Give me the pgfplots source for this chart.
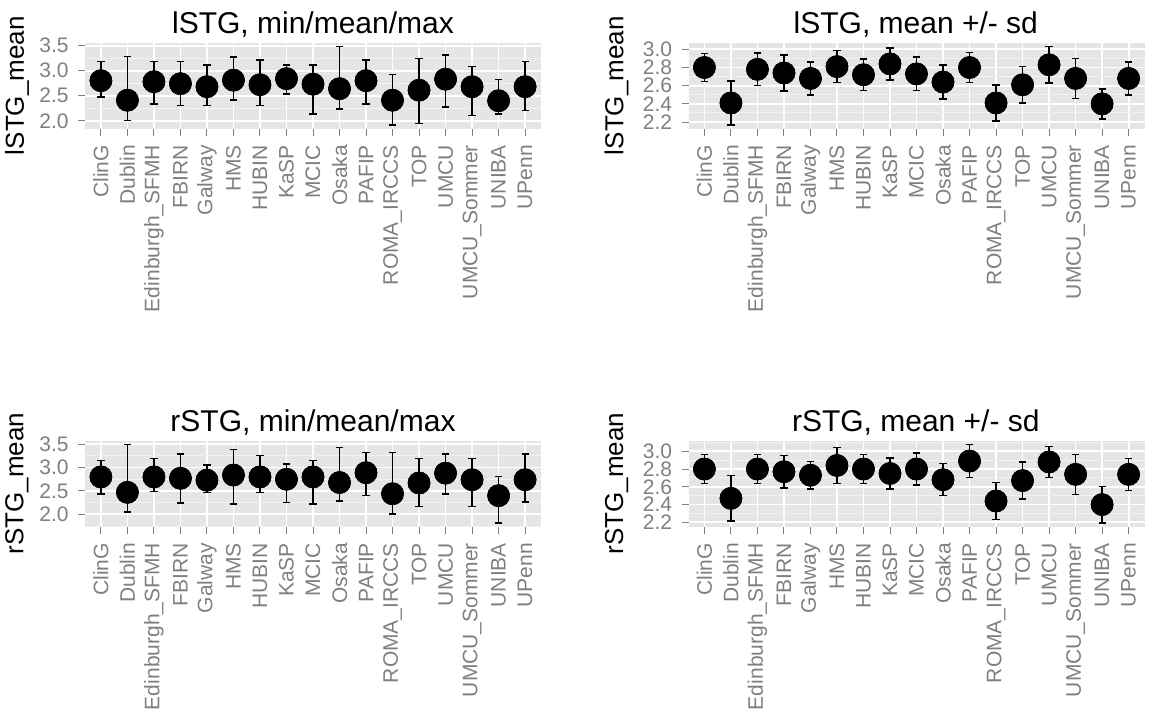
\documentclass[border=0pt]{standalone}
\usepackage{pgfplots}
\pgfplotsset{compat=1.18}
\usepackage{pgfplotstable}
\usepackage{fontspec}
\setmainfont{Liberation Sans}
\definecolor{panelbg}{HTML}{E5E5E5}
\definecolor{gridminor}{HTML}{F2F2F2}
\definecolor{tickgrey}{HTML}{7F7F7F}

% lSTG: mean, min, max, sd
\pgfplotstableread{
x mean min max sd
1  2.80 2.47 3.18 0.155
2  2.41 2.01 3.28 0.240
3  2.78 2.33 3.18 0.180
4  2.74 2.30 3.18 0.200
5  2.68 2.30 3.11 0.180
6  2.81 2.41 3.27 0.175
7  2.72 2.30 3.21 0.175
8  2.84 2.53 3.11 0.175
9  2.73 2.14 3.11 0.185
10 2.64 2.24 3.48 0.185
11 2.80 2.33 3.21 0.165
12 2.41 1.92 2.92 0.200
13 2.61 1.95 3.24 0.200
14 2.83 2.27 3.31 0.200
15 2.68 2.11 3.08 0.220
16 2.40 2.14 2.82 0.165
17 2.68 2.21 3.18 0.180
}\lstg

% rSTG: mean, min, max, sd
\pgfplotstableread{
x mean min max sd
1  2.80 2.43 3.15 0.165
2  2.47 2.05 3.49 0.255
3  2.80 2.49 3.19 0.165
4  2.77 2.24 3.29 0.185
5  2.73 2.47 3.05 0.155
6  2.84 2.22 3.39 0.200
7  2.80 2.47 3.26 0.165
8  2.75 2.25 3.08 0.175
9  2.80 2.22 3.15 0.180
10 2.68 2.29 3.43 0.180
11 2.89 2.40 3.32 0.185
12 2.44 2.01 3.32 0.210
13 2.67 2.17 3.19 0.210
14 2.88 2.43 3.29 0.175
15 2.74 2.17 3.19 0.225
16 2.40 1.82 2.81 0.205
17 2.74 2.26 3.29 0.180
}\rstg

\pgfplotsset{
  panel/.style={
    set layers,
    scale only axis, width=228pt, height=43pt, anchor=north west,
    xmin=0.4, xmax=17.6,
    xtick={1,...,17},
    xticklabels={ClinG,Dublin,Edinburgh\_SFMH,FBIRN,Galway,HMS,HUBIN,KaSP,MCIC,Osaka,PAFIP,ROMA\_IRCCS,TOP,UMCU,UMCU\_Sommer,UNIBA,UPenn},
    axis background/.style={fill=panelbg},
    axis line style={draw=none},
    grid=both,
    major grid style={white, line width=0.9pt},
    minor grid style={gridminor, line width=0.5pt},
    tick align=outside, major tick length=3.5pt, minor tick length=0pt,
    tick style={tickgrey, line width=0.5pt},
    xtick pos=left, ytick pos=left,
    ticklabel style={font=\fontsize{10.5}{10.5}\selectfont, text=tickgrey},
    xticklabel style={rotate=90, anchor=east, inner sep=0pt},
    yticklabel style={anchor=east, inner sep=0pt,
      /pgf/number format/fixed, /pgf/number format/fixed zerofill,
      /pgf/number format/precision=1, /pgf/number format/assume math mode=true},
    xticklabel shift=4.5pt, yticklabel shift=4.5pt,
  },
  dots/.style={only marks, mark=*, mark size=5.5pt, black, mark options={fill=black, draw=black, line width=0.2pt}},
  ebar/.style={only marks, mark=*, mark size=5.5pt, black,
    error bars/.cd, y dir=both, y explicit,
    error bar style={black, line width=0.75pt},
    error mark options={black, line width=0.75pt, mark size=1.8pt, rotate=90}},
}

\begin{document}
\begin{tikzpicture}

% top-left
\begin{axis}[panel, at={(42.5pt,-21.35pt)}, ymin=1.842, ymax=3.558,
  ytick={2,2.5,3,3.5}, minor ytick={2.25,2.75,3.25}]
\addplot[ebar] table[x=x, y=mean, y error plus expr=\thisrow{max}-\thisrow{mean}, y error minus expr=\thisrow{mean}-\thisrow{min}] {\lstg};
\addplot[dots] table[x=x, y=mean] {\lstg};
\end{axis}

% top-right
\begin{axis}[panel, at={(344.25pt,-21.35pt)}, ymin=2.127, ymax=3.073,
  ytick={2.2,2.4,2.6,2.8,3.0}, minor ytick={2.3,2.5,2.7,2.9}]
\addplot[ebar] table[x=x, y=mean, y error=sd] {\lstg};
\addplot[dots] table[x=x, y=mean] {\lstg};
\end{axis}

% bottom-left
\begin{axis}[panel, at={(42.5pt,-220.35pt)}, ymin=1.7365, ymax=3.5735,
  ytick={2,2.5,3,3.5}, minor ytick={1.75,2.25,2.75,3.25}]
\addplot[ebar] table[x=x, y=mean, y error plus expr=\thisrow{max}-\thisrow{mean}, y error minus expr=\thisrow{mean}-\thisrow{min}] {\rstg};
\addplot[dots] table[x=x, y=mean] {\rstg};
\end{axis}

% bottom-right
\begin{axis}[panel, at={(344.25pt,-220.35pt)}, ymin=2.151, ymax=3.119,
  ytick={2.2,2.4,2.6,2.8,3.0}, minor ytick={2.3,2.5,2.7,2.9,3.1}]
\addplot[ebar] table[x=x, y=mean, y error=sd] {\rstg};
\addplot[dots] table[x=x, y=mean] {\rstg};
\end{axis}

% titles
\node[font=\fontsize{15}{15}\selectfont, anchor=base] at (156.5pt,-16.65pt) {lSTG, min/mean/max};
\node[font=\fontsize{15}{15}\selectfont, anchor=base] at (457.9pt,-16.65pt) {lSTG, mean +/- sd};
\node[font=\fontsize{15}{15}\selectfont, anchor=base] at (156.5pt,-215.65pt) {rSTG, min/mean/max};
\node[font=\fontsize{15}{15}\selectfont, anchor=base] at (457.9pt,-215.65pt) {rSTG, mean +/- sd};

% y labels
\node[font=\fontsize{13}{13}\selectfont, rotate=90, anchor=center] at (8.5pt,-42.85pt) {lSTG\_mean};
\node[font=\fontsize{13}{13}\selectfont, rotate=90, anchor=center] at (308.25pt,-42.85pt) {lSTG\_mean};
\node[font=\fontsize{13}{13}\selectfont, rotate=90, anchor=center] at (8.5pt,-241.85pt) {rSTG\_mean};
\node[font=\fontsize{13}{13}\selectfont, rotate=90, anchor=center] at (308.25pt,-241.85pt) {rSTG\_mean};

\pgfresetboundingbox
\useasboundingbox (0,0) rectangle (574.5pt,-355.5pt);
\end{tikzpicture}
\end{document}
